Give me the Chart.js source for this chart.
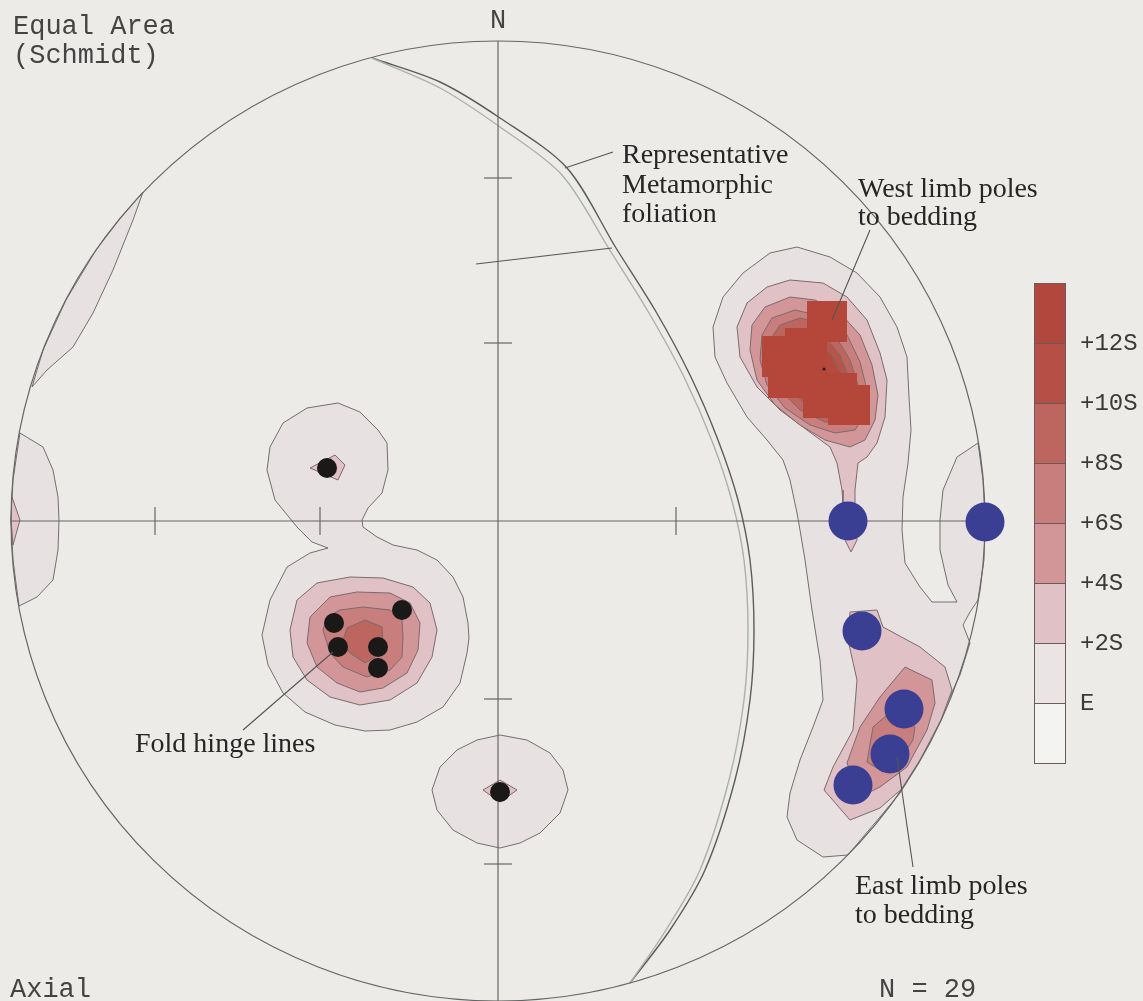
<!DOCTYPE html>
<html>
<head>
<meta charset="utf-8">
<script src="https://cdn.jsdelivr.net/npm/chart.js@4.4.1/dist/chart.umd.min.js"></script>
<style>
  html, body { margin: 0; padding: 0; background: #ecebe8; }
  canvas { display: block; }
</style>
</head>
<body>
<canvas id="net" width="1143" height="1001"></canvas>
<script>
// Net coordinates: origin at centre of the primitive, x to the east, y to the north.
// (the scanned primitive is ~487 units wide and ~480 units tall per half)

// --- contour polygons ---
// right side: west limb poles + east limb poles, lowest (E) level
const rightE = [[299,274],[332,264],[359,248],[382,224],[399,194],[409,164],[411,124],[413,91],[410,58],[405,24],[404,-9],[407,-42],[422,-66],[434,-81],[459,-81],[450,-64],[442,-29],[442,1],[445,31],[459,64],[480,78],[485,41],[487,0],[486,-39],[480,-79],[472,-91],[465,-104],[472,-122],[462,-154],[449,-182],[427,-229],[402,-272],[382,-296],[365,-316],[350,-334],[325,-336],[299,-319],[289,-296],[292,-272],[302,-239],[315,-206],[325,-179],[322,-139],[314,-89],[307,-39],[302,-9],[299,8],[292,41],[285,61],[269,81],[249,104],[229,138],[217,164],[215,194],[225,224],[245,248],[272,268]];
const west2S = [[292,241],[269,234],[249,218],[239,194],[242,164],[259,134],[282,111],[309,91],[332,74],[339,58],[344,31],[345,16],[347,-19],[353,-31],[359,-19],[357,16],[357,31],[360,58],[369,64],[379,78],[387,104],[389,141],[382,168],[369,201],[349,224],[325,238]];
const west4S = [[292,224],[267,214],[254,196],[252,171],[259,141],[277,116],[302,96],[327,81],[352,74],[367,81],[377,101],[380,126],[374,156],[362,186],[342,208],[317,221]];
const west6S = [[297,211],[274,203],[264,186],[262,161],[269,136],[287,113],[312,96],[337,88],[357,91],[368,109],[369,131],[362,159],[349,186],[327,204]];
const west8S = [[302,203],[282,196],[272,181],[272,156],[282,131],[302,111],[327,99],[350,98],[360,113],[360,136],[352,161],[337,186],[320,199]];
const west10S = [[307,193],[290,186],[282,171],[284,149],[297,126],[317,111],[340,106],[352,119],[352,141],[342,166],[327,184]];
const west12S = [[312,183],[297,176],[292,161],[297,141],[312,123],[332,116],[344,126],[344,146],[334,166],[322,178]];
// grid cells above +12S (drawn as blocks)
const westMax = [[309,220],[349,220],[349,179],[329,179],[329,148],[359,148],[359,136],[372,136],[372,96],[330,96],[330,103],[305,103],[305,123],[270,123],[270,144],[264,144],[264,185],[287,185],[287,193],[309,193]];
const east2S = [[352,-91],[379,-89],[385,-106],[422,-126],[447,-146],[454,-169],[443,-199],[422,-239],[403,-269],[399,-272],[382,-287],[352,-299],[326,-269],[335,-246],[355,-209],[359,-159],[350,-119]];
const east4S = [[407,-146],[434,-159],[437,-182],[429,-209],[409,-246],[382,-266],[362,-276],[349,-242],[362,-206],[382,-176]];
const east6S = [[397,-192],[417,-206],[415,-219],[402,-239],[385,-251],[369,-241],[375,-206],[389,-194]];

// left side: fold hinges
const hingeE = [[-160,118],[-138,109],[-120,91],[-111,78],[-110,51],[-116,28],[-130,13],[-136,1],[-135,-6],[-121,-16],[-105,-24],[-81,-29],[-61,-39],[-45,-56],[-35,-76],[-30,-102],[-29,-117],[-31,-132],[-38,-162],[-55,-186],[-81,-201],[-108,-209],[-133,-210],[-163,-204],[-193,-191],[-215,-172],[-230,-144],[-236,-114],[-228,-79],[-211,-46],[-188,-32],[-170,-27],[-186,-21],[-201,-6],[-223,21],[-231,51],[-228,74],[-215,98],[-191,113]];
const hingeTop2S = [[-188,53],[-163,66],[-153,56],[-160,41]];
const hinge2S = [[-208,-109],[-201,-79],[-181,-62],[-148,-56],[-115,-57],[-85,-66],[-68,-82],[-61,-109],[-66,-136],[-81,-162],[-108,-179],[-138,-184],[-168,-176],[-191,-159],[-205,-136]];
const hinge4S = [[-168,-76],[-141,-71],[-108,-72],[-88,-82],[-78,-102],[-80,-129],[-91,-152],[-115,-167],[-138,-171],[-161,-162],[-181,-146],[-191,-122],[-188,-96]];
const hinge6S = [[-158,-89],[-135,-86],[-108,-89],[-96,-99],[-95,-116],[-96,-136],[-108,-149],[-131,-156],[-155,-146],[-168,-132],[-175,-109],[-171,-96]];
const hinge8S = [[-133,-99],[-116,-106],[-115,-122],[-123,-136],[-133,-142],[-148,-132],[-156,-122],[-151,-107]];
const southE = [[2,-214],[29,-219],[52,-232],[65,-249],[70,-269],[62,-292],[42,-312],[22,-322],[2,-327],[-21,-322],[-45,-309],[-61,-289],[-66,-269],[-58,-246],[-41,-229],[-21,-219]];
const south2S = [[-15,-269],[2,-259],[19,-269],[2,-281]];
const westSliverE = [[-355,329],[-365,301],[-385,251],[-405,208],[-425,174],[-451,151],[-466,134],[-455,171],[-432,221],[-402,271],[-379,301]];
const westEdgeE = [[-478,88],[-455,74],[-445,51],[-440,24],[-439,1],[-440,-29],[-445,-59],[-461,-76],[-479,-85],[-485,-39],[-487,1],[-485,41]];
const westEdge2S = [[-486,24],[-478,1],[-485,-24],[-487,1]];

// representative metamorphic foliation (great circle, drawn double)
const foliationOuter = [[-126,463],[-58,439],[2,403],[69,353],[118,273],[157,211],[192,146],[220,81],[240,21],[252,-39],[256,-109],[252,-179],[237,-259],[207,-349],[172,-409],[132,-462]];
const foliationInner = [[-126,463],[-58,433],[2,394],[64,346],[113,269],[151,208],[186,144],[214,80],[234,20],[246,-39],[250,-109],[246,-179],[231,-259],[202,-349],[168,-409],[132,-462]];

// point data
const foldHinges = [[-171,53],[-164,-102],[-96,-89],[-160,-126],[-120,-126],[-120,-147],[2,-271]];
const eastLimbPoles = [[350,0],[487,-1],[364,-110],[406,-188],[392,-233],[355,-264]];
const westMaxCentre = [[326,152]];

// contour level legend
const legendLabels = ['+12S', '+10S', '+8S', '+6S', '+4S', '+2S', 'E'];
const legendColors = ['#b2473d', '#b64f45', '#bd655f', '#c77e7d', '#d29699', '#e0c1c5', '#ebe4e4', '#f3f3f1'];

const levelFill = {
  E: '#e8e1e2', s2: '#e0c1c5', s4: '#d29699', s6: '#c77e7d', s8: '#bd655f',
  s10: '#b85449', s12: '#b44b40', max: '#b4463a'
};

function toXY(arr) {
  return arr.map(([x, y]) => ({x, y}));
}

function polygon(label, arr, fill, border) {
  const data = toXY(arr);
  data.push(data[0]);
  return {
    label: label, data: data, showLine: true, fill: 'shape',
    backgroundColor: fill, borderColor: border || '#7b6b6c', borderWidth: 1,
    pointRadius: 0, tension: 0
  };
}

function curve(label, arr, color) {
  return {
    label: label, data: toXY(arr), showLine: true, fill: false,
    borderColor: color, borderWidth: 1.4, pointRadius: 0, tension: 0.3
  };
}

function dots(label, arr, color, r) {
  return {
    label: label, data: toXY(arr), showLine: false,
    backgroundColor: color, borderColor: color, borderWidth: 0,
    pointRadius: r, pointHoverRadius: r
  };
}

const datasets = [
  polygon('west sliver E', westSliverE, levelFill.E, '#707070'),
  polygon('west edge E', westEdgeE, levelFill.E, '#707070'),
  polygon('west edge +2S', westEdge2S, levelFill.s2),
  polygon('right E', rightE, levelFill.E, '#707070'),
  polygon('west limb +2S', west2S, levelFill.s2),
  polygon('west limb +4S', west4S, levelFill.s4),
  polygon('west limb +6S', west6S, levelFill.s6),
  polygon('west limb +8S', west8S, levelFill.s8),
  polygon('west limb +10S', west10S, levelFill.s10),
  polygon('west limb +12S', west12S, levelFill.s12),
  polygon('west limb max', westMax, levelFill.max, 'rgba(0,0,0,0)'),
  polygon('east limb +2S', east2S, levelFill.s2),
  polygon('east limb +4S', east4S, levelFill.s4),
  polygon('east limb +6S', east6S, levelFill.s6),
  polygon('hinge E', hingeE, levelFill.E, '#707070'),
  polygon('hinge top +2S', hingeTop2S, levelFill.s2),
  polygon('hinge +2S', hinge2S, levelFill.s2),
  polygon('hinge +4S', hinge4S, levelFill.s4),
  polygon('hinge +6S', hinge6S, levelFill.s6),
  polygon('hinge +8S', hinge8S, levelFill.s8),
  polygon('south E', southE, levelFill.E, '#707070'),
  polygon('south +2S', south2S, levelFill.s2),
  curve('foliation outer', foliationOuter, '#5c5c5c'),
  curve('foliation inner', foliationInner, '#a9b2a8')
];
const firstDotIndex = datasets.length;
datasets.push(dots('fold hinges', foldHinges, '#1b1818', 10));
datasets.push(dots('east limb poles', eastLimbPoles, '#3b3f94', 19.5));
datasets.push(dots('max', westMaxCentre, '#2a1a1a', 1.5));
// first dataset at the bottom
datasets.forEach((d, i) => { d.order = datasets.length - i; });

const ticks = [178, 343];

const netPlugin = {
  id: 'net',
  beforeDraw(chart) {
    const ctx = chart.ctx;
    ctx.save();
    ctx.fillStyle = '#ecebe8';
    ctx.fillRect(0, 0, chart.width, chart.height);
    ctx.restore();
  },
  beforeDatasetDraw(chart, args) {
    if (args.index !== firstDotIndex) return;
    const ctx = chart.ctx;
    const xs = chart.scales.x, ys = chart.scales.y;
    const P = (x, y) => [xs.getPixelForValue(x), ys.getPixelForValue(y)];
    const [cx, cy] = P(0, 0);
    const rx = P(487, 0)[0] - cx;
    const ry = cy - P(0, 480)[1];
    ctx.save();
    ctx.strokeStyle = '#666';
    ctx.lineWidth = 1.2;
    ctx.beginPath();
    ctx.ellipse(cx, cy, rx, ry, 0, 0, Math.PI * 2);
    ctx.stroke();
    const line = (a, b) => {
      ctx.beginPath();
      ctx.moveTo(a[0], a[1]);
      ctx.lineTo(b[0], b[1]);
      ctx.stroke();
    };
    line(P(0, 480), P(0, -480));
    line(P(-487, 0), P(487, 0));
    ticks.forEach(t => {
      [t, -t].forEach(s => {
        line(P(-14, s), P(14, s));
        line(P(s, -14), P(s, 14));
      });
    });
    ctx.restore();
  },
  afterDatasetsDraw(chart) {
    const ctx = chart.ctx;
    const xs = chart.scales.x, ys = chart.scales.y;
    const P = (x, y) => [xs.getPixelForValue(x), ys.getPixelForValue(y)];
    ctx.save();
    // leader lines
    ctx.strokeStyle = '#555';
    ctx.lineWidth = 1.1;
    [
      [[67, 353], [115, 369]],
      [[-22, 257], [114, 273]],
      [[372, 291], [334, 201]],
      [[-165, -131], [-255, -209]],
      [[399, -236], [415, -346]]
    ].forEach(([a, b]) => {
      const p = P(a[0], a[1]), q = P(b[0], b[1]);
      ctx.beginPath();
      ctx.moveTo(p[0], p[1]);
      ctx.lineTo(q[0], q[1]);
      ctx.stroke();
    });

    // serif annotations
    ctx.fillStyle = '#262626';
    ctx.font = '28px "Liberation Serif", "Times New Roman", serif';
    ctx.textAlign = 'left';
    ctx.textBaseline = 'middle';
    [
      ['Representative', 124, 365],
      ['Metamorphic', 124, 335],
      ['foliation', 124, 306],
      ['West limb poles', 360, 331],
      ['to bedding', 360, 303],
      ['Fold hinge lines', -363, -224],
      ['East limb poles', 357, -366],
      ['to bedding', 357, -395]
    ].forEach(([t, x, y]) => {
      const p = P(x, y);
      ctx.fillText(t, p[0], p[1]);
    });

    // monospace labels
    ctx.fillStyle = '#444';
    ctx.font = '27px "Liberation Mono", "Courier New", monospace';
    ctx.textBaseline = 'alphabetic';
    ctx.fillText('Equal Area', 13, 34);
    ctx.fillText('(Schmidt)', 13, 63);
    ctx.fillText('Axial', 10, 997);
    ctx.fillText('N = 29', 879, 997);
    ctx.textAlign = 'center';
    const n = P(0, 480);
    ctx.fillText('N', n[0], 28);

    // level legend
    const lx = 1034, lw = 31, top = 283, cell = 60;
    legendColors.forEach((c, i) => {
      ctx.fillStyle = c;
      ctx.fillRect(lx, top + i * cell, lw, cell);
    });
    ctx.strokeStyle = '#6a5a5a';
    ctx.lineWidth = 1;
    ctx.strokeRect(lx + 0.5, top + 0.5, lw, cell * legendColors.length);
    ctx.fillStyle = '#3a3a3a';
    ctx.font = '24px "Liberation Mono", "Courier New", monospace';
    ctx.textAlign = 'left';
    ctx.textBaseline = 'middle';
    legendLabels.forEach((t, i) => {
      const y = top + (i + 1) * cell;
      ctx.beginPath();
      ctx.moveTo(lx, y + 0.5);
      ctx.lineTo(lx + lw, y + 0.5);
      ctx.stroke();
      ctx.fillText(t, 1080, y + 1);
    });
    ctx.restore();
  }
};

new Chart(document.getElementById('net'), {
  type: 'scatter',
  data: { datasets: datasets },
  options: {
    responsive: false,
    animation: false,
    devicePixelRatio: 1,
    events: [],
    layout: { autoPadding: false, padding: 0 },
    scales: {
      x: { type: 'linear', min: -498, max: 645, display: false },
      y: { type: 'linear', min: -480, max: 521, display: false }
    },
    plugins: {
      legend: { display: false },
      tooltip: { enabled: false },
      filler: { drawTime: 'beforeDatasetDraw' }
    }
  },
  plugins: [netPlugin]
});
</script>
</body>
</html>
